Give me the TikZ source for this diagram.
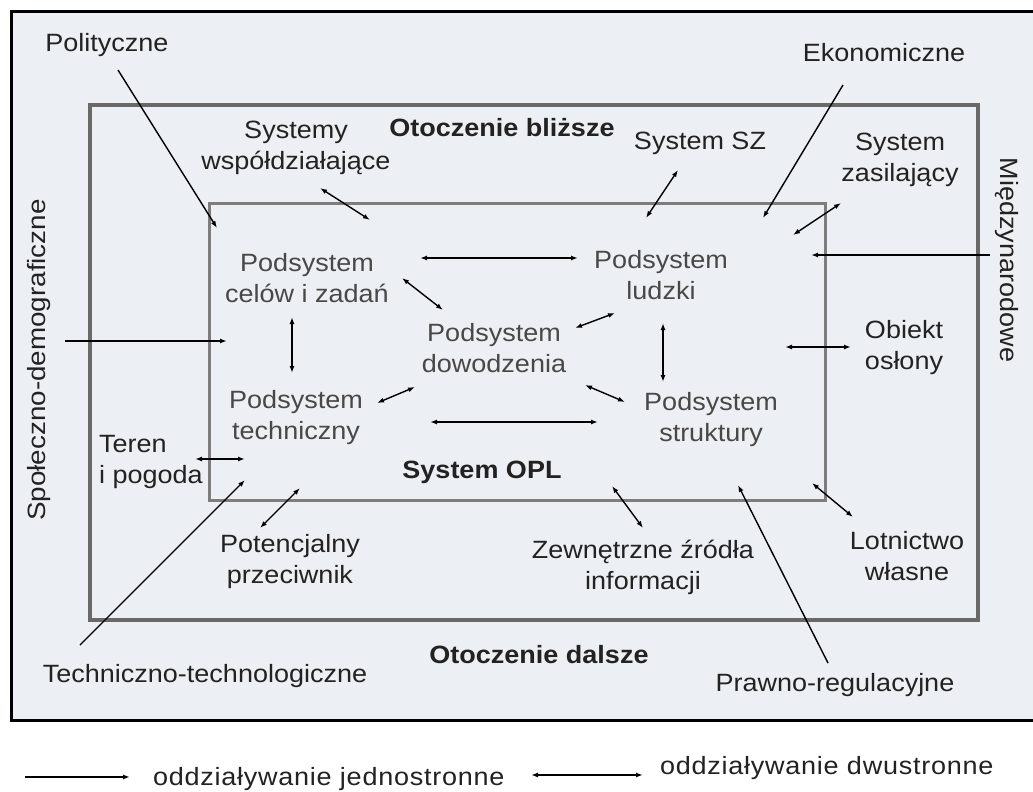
\documentclass[tikz,border=0pt]{standalone}
\usepackage{fontspec}
\setmainfont{Liberation Sans}[FakeStretch=1.08]
\usetikzlibrary{arrows.meta}
\definecolor{bgtint}{RGB}{236,239,243}
\definecolor{txt}{RGB}{34,34,34}
\definecolor{txtin}{RGB}{72,72,72}
\definecolor{frameB}{RGB}{105,105,105}
\definecolor{frameC}{RGB}{125,125,125}
\tikzset{
  lbl/.style={font=\fontsize{25}{31}\selectfont, text=txt, align=center, inner sep=0pt},
  blbl/.style={lbl, font=\fontsize{25}{31}\selectfont\bfseries},
  sublbl/.style={lbl, text=txtin},
  one/.style={line width=1.4pt, -{Latex[length=7pt,width=5pt]}},
  two/.style={line width=1.4pt, {Latex[length=7pt,width=5pt]}-{Latex[length=7pt,width=5pt]}},
}
\begin{document}
\begin{tikzpicture}[x=1pt,y=-1pt]
\useasboundingbox (0,0) rectangle (1033,792);
\fill[white] (0,0) rectangle (1033,792);
% frames
\draw[line width=3pt, fill=bgtint] (11,12) rectangle (1045,720);
\draw[line width=3.5pt, frameB] (90,105) rectangle (978,620);
\draw[line width=3pt, frameC] (209,203) rectangle (825,500);

% texts of far surroundings
\node[lbl] (polit) at (107,45) {Polityczne};
\node[lbl] (ekon) at (884,53) {Ekonomiczne};
\node[lbl, rotate=90, xscale=1.03] (spol) at (39,360) {Społeczno-demograficzne};
\node[lbl, rotate=-90] (miedzy) at (1007,260) {Międzynarodowe};
\node[lbl] (techtech) at (205,676) {Techniczno-technologiczne};
\node[lbl] (prawno) at (835,685) {Prawno-regulacyjne};
\node[blbl] (otdal) at (539,655) {Otoczenie dalsze};
\node[blbl] (otbli) at (502,128) {Otoczenie bliższe};

% texts of near surroundings
\node[lbl] (sysw) at (296,148) {Systemy\\współdziałające};
\node[lbl] (syssz) at (700,143) {System SZ};
\node[lbl] (syszas) at (900,160) {System\\zasilający};
\node[lbl] (obiekt) at (904,348) {Obiekt\\osłony};
\node[lbl, align=left, anchor=west] (teren) at (99,462) {Teren\\ i pogoda};
\node[lbl] (poten) at (290,562) {Potencjalny\\przeciwnik};
\node[lbl] (zewn) at (643,567) {Zewnętrzne źródła\\informacji};
\node[lbl] (lotn) at (907,556) {Lotnictwo\\własne};

% system OPL
\node[blbl] (sysopl) at (482,472) {System OPL};
\node[sublbl] (pcel) at (307,278) {Podsystem\\celów i zadań};
\node[sublbl] (plud) at (661,275) {Podsystem\\ludzki};
\node[sublbl] (pdow) at (494,348) {Podsystem\\dowodzenia};
\node[sublbl] (ptech) at (296,418) {Podsystem\\techniczny};
\node[sublbl] (pstr) at (711,420) {Podsystem\\struktury};

% connector end points
\coordinate (politS) at (118,70);   \coordinate (politE) at (217,228);
\coordinate (ekonS) at (843,85);    \coordinate (ekonE) at (763,218);
\coordinate (spolS) at (65,341);    \coordinate (spolE) at (227,341);
\coordinate (miedzyS) at (990,255); \coordinate (miedzyE) at (811,255);
\coordinate (techS) at (80,645);    \coordinate (techE) at (245,480);
\coordinate (prawS) at (828,663);   \coordinate (prawE) at (738,485);

\coordinate (syswA) at (320,188);   \coordinate (syswB) at (370,220);
\coordinate (sysszA) at (678,170);  \coordinate (sysszB) at (646,218);
\coordinate (syszasA) at (841,203); \coordinate (syszasB) at (793,235);
\coordinate (obiektA) at (851,347); \coordinate (obiektB) at (785,347);
\coordinate (terenA) at (195,459);  \coordinate (terenB) at (245,459);
\coordinate (potenA) at (260,528);  \coordinate (potenB) at (300,488);
\coordinate (zewnA) at (643,528);   \coordinate (zewnB) at (612,486);
\coordinate (lotnA) at (853,517);   \coordinate (lotnB) at (812,483);

\coordinate (celludA) at (420,258); \coordinate (celludB) at (578,258);
\coordinate (celdowA) at (402,278); \coordinate (celdowB) at (443,310);
\coordinate (dowludA) at (575,328); \coordinate (dowludB) at (615,313);
\coordinate (ludstrA) at (663,323); \coordinate (ludstrB) at (663,382);
\coordinate (dowstrA) at (585,385); \coordinate (dowstrB) at (625,402);
\coordinate (celtecA) at (292,317); \coordinate (celtecB) at (292,373);
\coordinate (tecdowA) at (377,403); \coordinate (tecdowB) at (415,387);
\coordinate (tecstrA) at (430,422); \coordinate (tecstrB) at (598,422);

% one-way influences
\draw[one] (politS) -- (politE);
\draw[one] (ekonS) -- (ekonE);
\draw[one] (spolS) -- (spolE);
\draw[one] (miedzyS) -- (miedzyE);
\draw[one] (techS) -- (techE);
\draw[one] (prawS) -- (prawE);

% two-way influences
\draw[two] (syswA) -- (syswB);
\draw[two] (sysszA) -- (sysszB);
\draw[two] (syszasA) -- (syszasB);
\draw[two] (obiektA) -- (obiektB);
\draw[two] (terenA) -- (terenB);
\draw[two] (potenA) -- (potenB);
\draw[two] (zewnA) -- (zewnB);
\draw[two] (lotnA) -- (lotnB);
\draw[two] (celludA) -- (celludB);
\draw[two] (celdowA) -- (celdowB);
\draw[two] (dowludA) -- (dowludB);
\draw[two] (ludstrA) -- (ludstrB);
\draw[two] (dowstrA) -- (dowstrB);
\draw[two] (celtecA) -- (celtecB);
\draw[two] (tecdowA) -- (tecdowB);
\draw[two] (tecstrA) -- (tecstrB);

% legend
\coordinate (leg1S) at (25,777);  \coordinate (leg1E) at (130,777);
\coordinate (leg2S) at (531,775); \coordinate (leg2E) at (643,775);
\draw[one] (leg1S) -- (leg1E);
\draw[two] (leg2S) -- (leg2E);
\node[lbl, anchor=west, font=\fontsize{25}{31}\selectfont\addfontfeatures{LetterSpace=3}] (leg1) at (153,779) {oddziaływanie jednostronne};
\node[lbl, anchor=west, font=\fontsize{25}{31}\selectfont\addfontfeatures{LetterSpace=3}] (leg2) at (660,768) {oddziaływanie dwustronne};
\end{tikzpicture}
\end{document}
